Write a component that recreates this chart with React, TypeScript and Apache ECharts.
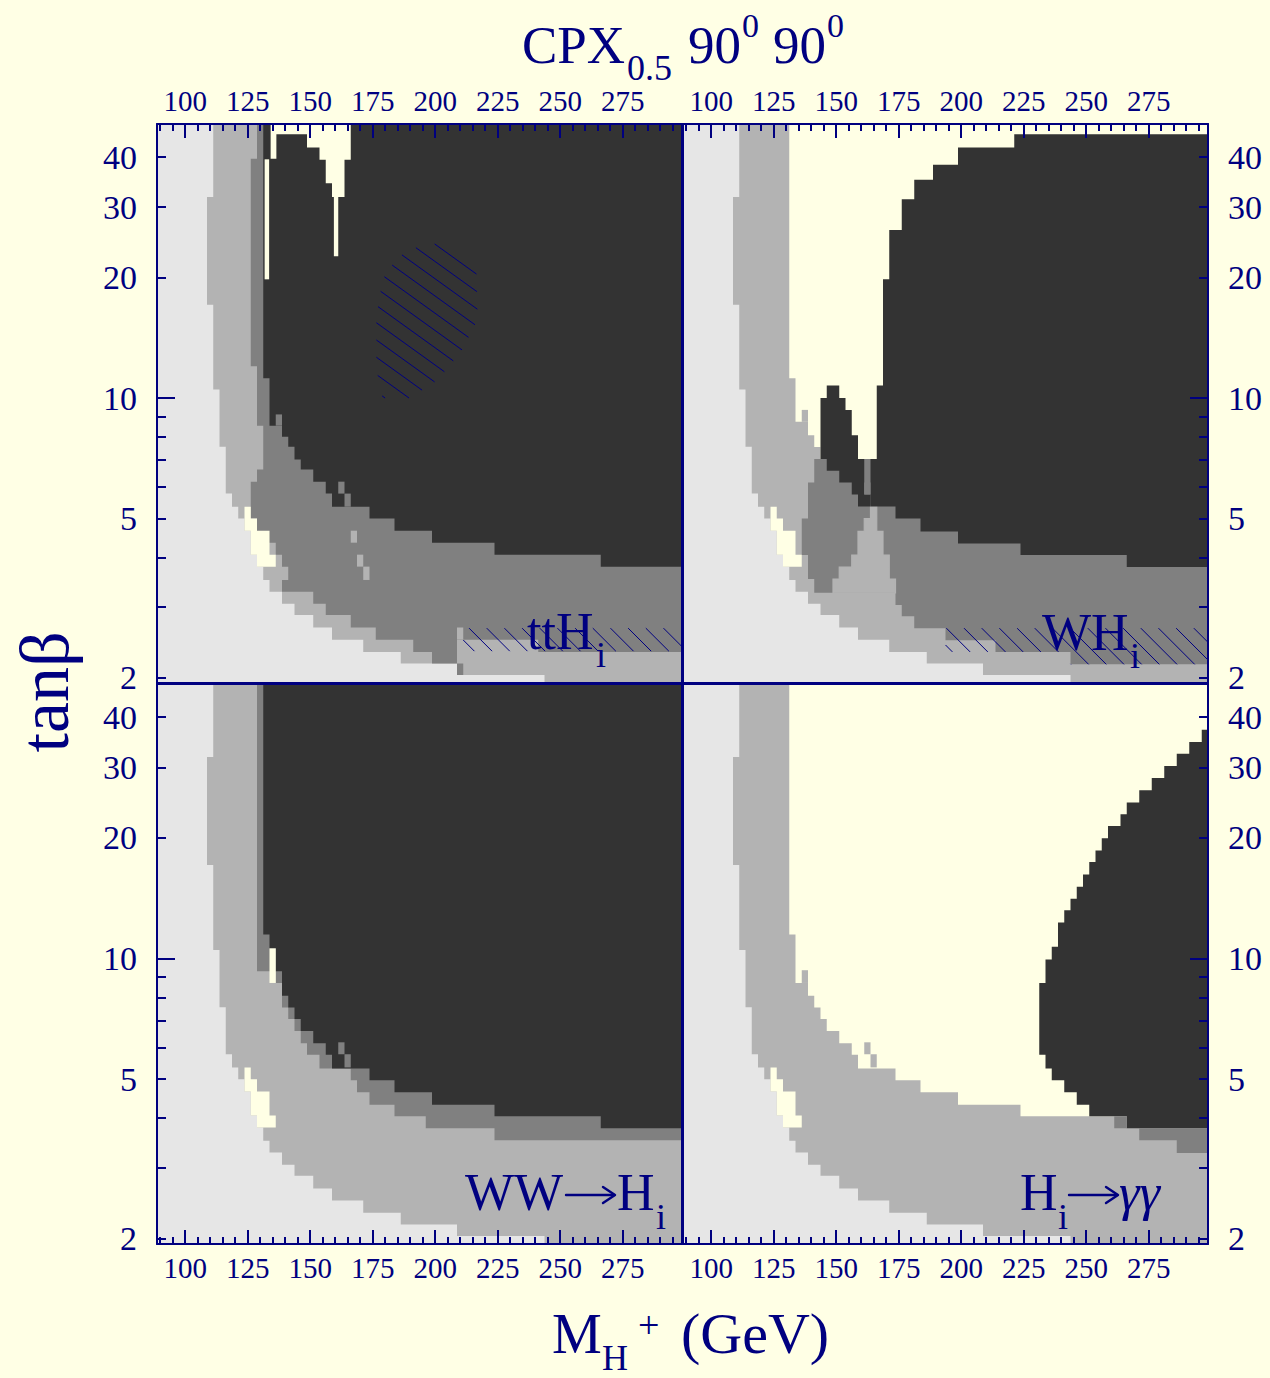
import React, { useEffect, useRef } from "react";
import * as echarts from "echarts";

// ---- axes -------------------------------------------------------------
const MASS_MIN = 88.75;
const MASS_MAX = 298.75;
const TANB_MIN = 1.94;
const TANB_MAX = 48.4;

const MASS_LABELS = [100, 125, 150, 175, 200, 225, 250, 275];
const MASS_MINOR_TICKS = [
  90, 95, 100, 105, 110, 115, 120, 125, 130, 135, 140, 145, 150, 155, 160, 165, 170, 175, 180, 185,
  190, 195, 200, 205, 210, 215, 220, 225, 230, 235, 240, 245, 250, 255, 260, 265, 270, 275, 280,
  285, 290, 295,
];
const TANB_LABELS = [2, 5, 10, 20, 30, 40];
const TANB_TICKS = [2, 3, 4, 5, 6, 7, 8, 9, 20, 30, 40];
const TANB_DECADE = [10];

// ---- regions: [M_H+ (GeV), tanβ] --------------------------------------
// Staircase edges: each [M, t] = the edge sits at M down to tanβ = t.
const EDGE_OUTER = [
  [111.25, 31.8], [108.75, 17.1], [111.25, 10.5], [113.75, 7.56], [116.25, 5.77], [118.75, 5.35],
  [121.25, 5.0], [123.75, 4.66], [126.25, 4.06], [128.75, 3.79], [131.25, 3.51], [133.75, 3.28],
  [138.75, 3.06], [143.75, 2.87], [151.25, 2.67], [158.75, 2.49], [171.25, 2.32], [186.25, 2.17],
  [208.75, 2.03], [243.75, 1.5],
];
const CREAM_STREAK = [
  [123.75, 5.35], [126.25, 5.35], [126.25, 5.0], [128.75, 5.0], [128.75, 4.66], [133.75, 4.66],
  [133.75, 4.06], [136.25, 4.06], [136.25, 3.79], [128.75, 3.79], [128.75, 4.06], [126.25, 4.06],
  [126.25, 4.66], [123.75, 4.66],
];
// cells: [M0, t0, M1, t1]
const SPECKS = [
  [161.25, 6.18, 163.75, 5.77],
  [163.75, 5.77, 166.25, 5.35],
];

// ttH_i
const TTH_GREY_EDGE = [
  [128.75, 39.6], [126.25, 12.0], [128.75, 8.53], [131.25, 6.63], [128.75, 6.18], [126.25, 5.0],
  [128.75, 4.35], [136.25, 4.06], [138.75, 3.79], [141.25, 3.51], [138.75, 3.28], [151.25, 3.06],
  [156.25, 2.87], [166.25, 2.67], [176.25, 2.49], [191.25, 2.32], [198.75, 2.17], [208.75, 2.03],
];
const TTH_DARK_EDGE = [
  [131.25, 11.2], [133.75, 8.53], [138.75, 8.0], [141.25, 7.56], [143.75, 7.02], [146.25, 6.63],
  [151.25, 6.18], [156.25, 5.77], [158.75, 5.35], [173.75, 5.0], [183.75, 4.66], [198.75, 4.35],
  [223.75, 4.06], [266.25, 3.79],
];
const TTH_MID_BAND = [
  [208.75, 2.49], [241.25, 2.49], [241.25, 2.32], [310, 2.32], [310, 2.03], [211.25, 2.03],
  [211.25, 2.17], [208.75, 2.17],
];
const TTH_MID_SPECKS = [
  [166.25, 4.66, 168.75, 4.35],
  [168.75, 4.06, 171.25, 3.79],
  [171.25, 3.79, 173.75, 3.51],
  [208.75, 2.67, 211.25, 2.49],
];
const TTH_GREY_SPECKS = [[136.25, 9.1, 138.75, 8.53]];
const TTH_CREAM_TOP = [
  [134.2, 60], [166.25, 60], [166.25, 39.4], [163.75, 39.4], [163.75, 31.8], [161.25, 31.8],
  [161.25, 22.6], [159.5, 22.6], [159.5, 31.8], [158.75, 31.8], [158.75, 34.4], [156.25, 34.4],
  [156.25, 39.4], [153.75, 39.4], [153.75, 42.3], [148.75, 42.3], [148.75, 45.6], [136.5, 45.6],
  [136.5, 39.6], [134.2, 39.6],
];
const TTH_CREAM_LINE = [131.8, 39.5, 133.6, 19.8];
const TTH_HATCH_BLOB = [
  [176.5, 16.0], [179, 19.8], [185, 22.5], [193.75, 24.0], [205, 24.5], [216.5, 21.0], [217, 15.7],
  [210.5, 13.1], [201, 11.1], [190, 10.0], [179, 10.0], [176.5, 11.8],
];
const TTH_HATCH_BAND = [[211.25, 2.66], [310, 2.66], [310, 2.33], [211.25, 2.33]];

// WH_i
const WH_CREAM_EDGE = [[131.25, 11.2], [133.75, 8.72], [138.75, 8.07], [141.25, 7.54], [143.75, 6.58]];
const WH_MID_SPECK = [136.25, 9.34, 138.75, 8.72];
const WH_GREY_REGION = [
  [141.25, 7.04], [141.25, 6.15], [138.75, 6.15], [138.75, 5.0], [136.25, 5.0], [136.25, 4.05],
  [138.75, 4.05], [138.75, 3.53], [141.25, 3.53], [141.25, 3.26], [173.75, 3.26], [173.75, 3.04],
  [176.25, 3.04], [176.25, 2.85], [181.25, 2.85], [181.25, 2.66], [193.75, 2.66], [193.75, 2.48],
  [213.75, 2.48], [213.75, 2.32], [243.75, 2.32], [243.75, 2.16], [310, 2.16], [310, 7.04],
];
const WH_MID_WEDGE = [
  [163.75, 5.36], [166.25, 5.36], [166.25, 4.64], [168.75, 4.64], [168.75, 4.05], [171.25, 4.05],
  [171.25, 3.53], [173.75, 3.53], [173.75, 3.26], [148.75, 3.26], [148.75, 3.53], [151.25, 3.53],
  [151.25, 3.78], [156.25, 3.78], [156.25, 4.05], [158.75, 4.05], [158.75, 4.64], [161.25, 4.64],
  [161.25, 5.0], [163.75, 5.0],
];
const WH_DARK_TOP = 45.6;
const WH_DARK_EDGE = [
  [221.25, 42.3], [198.75, 38.3], [188.75, 35.1], [181.25, 31.4], [176.25, 26.3], [171.25, 19.8],
  [168.75, 10.74], [166.25, 7.04], [163.75, 5.36], [173.75, 5.0], [183.75, 4.64], [198.75, 4.33],
  [223.75, 4.05], [266.25, 3.78],
];
const WH_DARK_SPIKE = [
  [146.25, 10.74], [151.25, 10.74], [151.25, 10.0], [153.75, 10.0], [153.75, 9.34], [156.25, 9.34],
  [156.25, 8.07], [158.75, 8.07], [158.75, 7.04], [161.25, 7.04], [161.25, 5.74], [163.75, 5.74],
  [163.75, 5.36], [158.75, 5.36], [158.75, 5.74], [156.25, 5.74], [156.25, 6.15], [151.25, 6.15],
  [151.25, 6.58], [146.25, 6.58], [146.25, 7.04], [143.75, 7.04], [143.75, 10.0], [146.25, 10.0],
];
const WH_GREY_SPECK = [161.25, 6.15, 163.75, 5.74];
const WH_HATCH_BAND = [
  [193.75, 2.66], [310, 2.66], [310, 2.16], [243.75, 2.16], [243.75, 2.32], [193.75, 2.32],
];

// WW -> H_i
const WW_GREY_EDGE = [
  [128.75, 9.3], [136.25, 8.69], [138.75, 7.55], [141.25, 7.06], [143.75, 6.59], [146.25, 6.15],
  [148.75, 5.75], [153.75, 5.32], [166.25, 4.97], [168.75, 4.64], [173.75, 4.32], [183.75, 4.04],
  [196.25, 3.77], [223.75, 3.52],
];
const WW_DARK_EDGE = [
  [131.25, 11.48], [133.75, 10.6], [136.25, 9.3], [138.75, 8.08], [141.25, 7.55], [143.75, 7.06],
  [146.25, 6.59], [151.25, 6.15], [156.25, 5.75], [158.75, 5.32], [173.75, 4.97], [183.75, 4.64],
  [198.75, 4.32], [223.75, 4.04], [266.25, 3.77],
];
const WW_CREAM_LINE = [133.75, 10.6, 136.25, 8.69];

// H_i -> γγ
const AA_CREAM_EDGE = [
  [131.25, 11.48], [133.75, 8.69], [138.75, 8.08], [141.25, 7.55], [143.75, 7.06], [146.25, 6.59],
  [151.25, 6.15], [156.25, 5.75], [158.75, 5.32], [173.75, 4.97], [183.75, 4.64], [198.75, 4.32],
  [223.75, 4.04],
];
const AA_MID_SPECK = [136.25, 9.35, 138.75, 8.69];
const AA_DARK_TOP = 37.2;
const AA_DARK_EDGE = [
  [296.25, 34.7], [291.25, 32.4], [286.25, 30.2], [281.25, 28.2], [276.25, 26.3], [271.25, 24.5],
  [266.25, 22.9], [263.75, 21.4], [258.75, 19.95], [256.25, 18.6], [253.75, 17.4], [251.25, 16.2],
  [248.75, 15.1], [246.25, 14.1], [243.75, 13.2], [241.25, 12.3], [238.75, 10.7], [236.25, 9.95],
  [233.75, 8.69], [231.25, 5.75], [233.75, 5.32], [236.25, 4.97], [241.25, 4.64], [246.25, 4.32],
  [251.25, 4.04], [266.25, 3.77],
];
const AA_GREY = [
  [261.25, 4.04], [266.25, 4.04], [266.25, 3.77], [310, 3.77], [310, 3.27], [286.25, 3.27],
  [286.25, 3.52], [271.25, 3.52], [271.25, 3.77], [261.25, 3.77],
];

// ---- styling -----------------------------------------------------------
const NAVY = "#000080";
const CREAM = "#ffffe5";
const LIGHT = "#e6e6e6";
const MID = "#b3b3b3";
const GREY = "#808080";
const DARK = "#333333";
const SERIF = '"Liberation Serif", "Times New Roman", serif';

const FULL = [[80, 1.5], [310, 1.5], [310, 60], [80, 60]];
const BLOB_HATCH = [0.72, 14];
const BAND_HATCH = [1.0, 12.5];

type Shape = { fill?: string; pts: number[][]; hatch?: number[]; seal?: boolean };

function cell([m0, t0, m1, t1]: number[]) {
  return [[m0, t0], [m1, t0], [m1, t1], [m0, t1]];
}

function stepPolygon(steps: number[][], top = 60) {
  const pts: number[][] = [[steps[0][0], top]];
  steps.forEach(([m, t], i) => {
    pts.push([m, t]);
    if (i < steps.length - 1) pts.push([steps[i + 1][0], t]);
  });
  const lastT = steps[steps.length - 1][1];
  pts.push([310, lastT], [310, top]);
  return pts;
}

const PANELS: Shape[][] = [
  [
    { fill: LIGHT, pts: FULL },
    { fill: MID, pts: stepPolygon(EDGE_OUTER) },
    { fill: GREY, pts: stepPolygon(TTH_GREY_EDGE) },
    { fill: MID, pts: TTH_MID_BAND },
    ...TTH_MID_SPECKS.map((c) => ({ fill: MID, pts: cell(c) })),
    { fill: DARK, pts: stepPolygon(TTH_DARK_EDGE) },
    ...[...SPECKS, ...TTH_GREY_SPECKS].map((c) => ({ fill: GREY, pts: cell(c) })),
    { fill: CREAM, pts: CREAM_STREAK },
    { fill: CREAM, pts: TTH_CREAM_TOP },
    { fill: CREAM, pts: cell(TTH_CREAM_LINE) },
    { pts: TTH_HATCH_BLOB, hatch: BLOB_HATCH },
    { pts: TTH_HATCH_BAND, hatch: BAND_HATCH },
  ],
  [
    { fill: LIGHT, pts: FULL },
    { fill: MID, pts: stepPolygon(EDGE_OUTER) },
    { fill: CREAM, pts: stepPolygon(WH_CREAM_EDGE) },
    { fill: MID, pts: cell(WH_MID_SPECK) },
    { fill: GREY, pts: WH_GREY_REGION },
    { fill: MID, pts: WH_MID_WEDGE, seal: true },
    { fill: DARK, pts: stepPolygon(WH_DARK_EDGE, WH_DARK_TOP) },
    { fill: DARK, pts: WH_DARK_SPIKE },
    { fill: GREY, pts: cell(WH_GREY_SPECK) },
    { fill: CREAM, pts: CREAM_STREAK },
    { pts: WH_HATCH_BAND, hatch: BAND_HATCH },
  ],
  [
    { fill: LIGHT, pts: FULL },
    { fill: MID, pts: stepPolygon(EDGE_OUTER) },
    { fill: GREY, pts: stepPolygon(WW_GREY_EDGE) },
    { fill: DARK, pts: stepPolygon(WW_DARK_EDGE) },
    ...SPECKS.map((c) => ({ fill: GREY, pts: cell(c) })),
    { fill: CREAM, pts: cell(WW_CREAM_LINE) },
    { fill: CREAM, pts: CREAM_STREAK },
  ],
  [
    { fill: LIGHT, pts: FULL },
    { fill: MID, pts: stepPolygon(EDGE_OUTER) },
    { fill: CREAM, pts: stepPolygon(AA_CREAM_EDGE) },
    { fill: MID, pts: cell(AA_MID_SPECK) },
    ...SPECKS.map((c) => ({ fill: MID, pts: cell(c) })),
    { fill: DARK, pts: stepPolygon(AA_DARK_EDGE, AA_DARK_TOP) },
    { fill: GREY, pts: AA_GREY },
    { fill: CREAM, pts: CREAM_STREAK },
  ],
];

const GRIDS = [
  { left: 157, top: 124, width: 525, height: 559 },
  { left: 683, top: 124, width: 525, height: 559 },
  { left: 157, top: 684, width: 525, height: 560 },
  { left: 683, top: 684, width: 525, height: 560 },
];

// parallel hatch lines clipped to a pixel polygon
function hatchLines(poly: number[][], slope: number, gap: number) {
  const len = Math.hypot(1, slope);
  const d = [1 / len, slope / len];
  const n = [-d[1], d[0]];
  const proj = poly.map((p) => p[0] * n[0] + p[1] * n[1]);
  const lo = Math.min(...proj);
  const hi = Math.max(...proj);
  const children: any[] = [];
  for (let k = Math.ceil(lo / gap); k * gap <= hi; k++) {
    const c = k * gap;
    const us: number[] = [];
    for (let i = 0; i < poly.length; i++) {
      const j = (i + 1) % poly.length;
      const sa = proj[i] - c;
      const sb = proj[j] - c;
      if (sa < 0 !== sb < 0) {
        const f = sa / (sa - sb);
        const x = poly[i][0] + (poly[j][0] - poly[i][0]) * f;
        const y = poly[i][1] + (poly[j][1] - poly[i][1]) * f;
        us.push(x * d[0] + y * d[1]);
      }
    }
    us.sort((a, b) => a - b);
    for (let m = 0; m + 1 < us.length; m += 2) {
      children.push({
        type: "line",
        shape: {
          x1: c * n[0] + us[m] * d[0],
          y1: c * n[1] + us[m] * d[1],
          x2: c * n[0] + us[m + 1] * d[0],
          y2: c * n[1] + us[m + 1] * d[1],
        },
        style: { stroke: NAVY, lineWidth: 1 },
      });
    }
  }
  return { type: "group", children };
}

function makeRenderItem(shapes: Shape[]) {
  return (params: any, api: any) => {
    const s = shapes[params.dataIndex];
    const pts = s.pts.map(([m, t]) => api.coord([m, Math.log10(t)]));
    if (s.hatch) return hatchLines(pts, s.hatch[0], s.hatch[1]);
    return {
      type: "polygon",
      shape: { points: pts },
      style: s.seal ? { fill: s.fill, stroke: s.fill, lineWidth: 1.2 } : { fill: s.fill, lineWidth: 0 },
    };
  };
}

const lineStyle = { color: NAVY, width: 2 };
const log = (v: number) => Math.log10(v);

function xAxesFor(g: number, top: boolean) {
  const base = { gridIndex: g, type: "value", min: MASS_MIN, max: MASS_MAX, splitLine: { show: false }, z: 10 };
  const pos = top ? "top" : "bottom";
  return [
    {
      ...base,
      position: pos,
      axisLine: { show: true, onZero: false, lineStyle },
      axisTick: { show: true, inside: true, length: 14, customValues: MASS_LABELS, lineStyle },
      axisLabel: { show: true, customValues: MASS_LABELS, margin: 9, fontSize: 29, color: NAVY, fontFamily: SERIF },
    },
    {
      ...base,
      position: pos,
      axisLine: { show: false },
      axisTick: { show: true, inside: true, length: 7, customValues: MASS_MINOR_TICKS, lineStyle },
      axisLabel: { show: false },
    },
    {
      ...base,
      position: top ? "bottom" : "top",
      axisLine: { show: true, onZero: false, lineStyle },
      axisTick: { show: false },
      axisLabel: { show: false },
    },
  ];
}

function yAxesFor(g: number, left: boolean) {
  const base = { gridIndex: g, type: "value", min: log(TANB_MIN), max: log(TANB_MAX), splitLine: { show: false }, z: 10 };
  const pos = left ? "left" : "right";
  return [
    {
      ...base,
      position: pos,
      axisLine: { show: true, onZero: false, lineStyle },
      axisTick: { show: true, inside: true, length: 9, customValues: TANB_TICKS.map(log), lineStyle },
      axisLabel: {
        show: true,
        customValues: TANB_LABELS.map(log),
        formatter: (v: number) => String(Math.round(Math.pow(10, v))),
        margin: 20,
        fontSize: 34,
        color: NAVY,
        fontFamily: SERIF,
      },
    },
    {
      ...base,
      position: pos,
      axisLine: { show: false },
      axisTick: { show: true, inside: true, length: 18, customValues: TANB_DECADE.map(log), lineStyle },
      axisLabel: { show: false },
    },
    {
      ...base,
      position: left ? "right" : "left",
      axisLine: { show: true, onZero: false, lineStyle },
      axisTick: { show: false },
      axisLabel: { show: false },
    },
  ];
}

function txt(text: string, x: number, baseline: number, size: number, italic = false) {
  return {
    type: "text",
    x,
    y: baseline - size * 0.34,
    z: 30,
    style: {
      text,
      fill: NAVY,
      font: `${italic ? "italic " : ""}${size}px ${SERIF}`,
      textAlign: "left",
      verticalAlign: "middle",
    },
  };
}

// long thin rightwards arrow (shaft + open head) used in the channel names
function arrow(x0: number, x1: number, y: number) {
  const style = { stroke: NAVY, lineWidth: 2.4, fill: null, lineCap: "round", lineJoin: "round" };
  return [
    { type: "line", z: 30, shape: { x1: x0, y1: y, x2: x1 - 1, y2: y }, style },
    { type: "polyline", z: 30, shape: { points: [[x1 - 12, y - 8], [x1, y], [x1 - 12, y + 8]] }, style },
  ];
}

function buildOption() {
  const xAxis: any[] = [];
  const yAxis: any[] = [];
  GRIDS.forEach((_, g) => {
    xAxis.push(...xAxesFor(g, g < 2));
    yAxis.push(...yAxesFor(g, g % 2 === 0));
  });
  return {
    animation: false,
    backgroundColor: CREAM,
    grid: GRIDS.map((r) => ({ ...r, containLabel: false })),
    xAxis,
    yAxis,
    series: PANELS.map((shapes, g) => ({
      type: "custom",
      coordinateSystem: "cartesian2d",
      xAxisIndex: 3 * g,
      yAxisIndex: 3 * g,
      clip: true,
      silent: true,
      renderItem: makeRenderItem(shapes),
      data: shapes.map((s) => [s.pts[0][0], Math.log10(s.pts[0][1])]),
    })),
    graphic: [
      // title
      txt("CPX", 522, 63, 53),
      txt("0.5", 627, 80, 36),
      txt("90", 688, 63, 53),
      txt("0", 742, 37, 34),
      txt("90", 773, 63, 53),
      txt("0", 827, 37, 34),
      // x title
      txt("M", 552, 1353, 56),
      txt("H", 602, 1370, 36),
      txt("+", 638, 1338, 38),
      txt("(GeV)", 681, 1353, 58),
      // y title
      {
        type: "text",
        x: 44,
        y: 692,
        rotation: Math.PI / 2,
        z: 30,
        style: { text: "tanβ", fill: NAVY, font: `70px ${SERIF}`, textAlign: "center", verticalAlign: "middle" },
      },
      // channel labels
      txt("ttH", 527, 649, 52),
      txt("i", 596, 667, 36),
      txt("WH", 1042, 650, 52),
      txt("i", 1130, 668, 36),
      txt("WW", 465, 1210, 52),
      ...arrow(566, 615, 1195),
      txt("H", 617, 1210, 52),
      txt("i", 656, 1229, 36),
      txt("H", 1020, 1210, 52),
      txt("i", 1058, 1229, 36),
      ...arrow(1069, 1118, 1195),
      txt("γγ", 1119, 1210, 52, true),
    ],
  };
}

export default function App() {
  const ref = useRef<HTMLDivElement>(null);
  useEffect(() => {
    const chart = echarts.init(ref.current!, undefined, { renderer: "svg" });
    chart.setOption(buildOption() as any);
    return () => chart.dispose();
  }, []);
  return (
    <div
      ref={ref}
      style={{ position: "absolute", left: 0, top: 0, width: 1270, height: 1378, background: CREAM }}
    />
  );
}
